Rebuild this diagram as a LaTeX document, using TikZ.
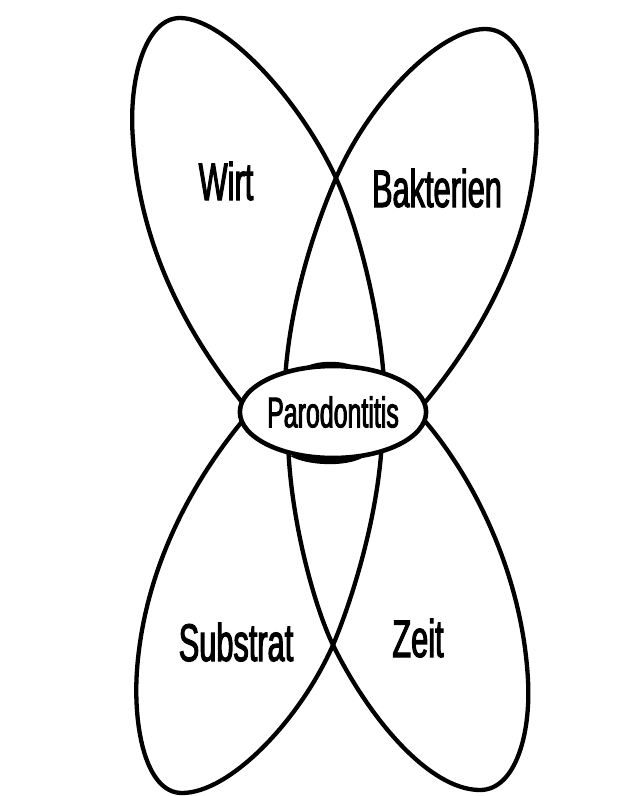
\documentclass[tikz,border=0pt]{standalone}
\usepackage{fontspec}
\setmainfont{Liberation Sans}
\newfontfamily\labfont{Liberation Sans}[FakeStretch=0.58,FakeBold=2]
\usetikzlibrary{shapes.geometric}
\begin{document}
\begin{tikzpicture}[x=1pt,y=-1pt,
  petal/.style={line width=4.3pt, line join=round, line cap=round},
  lab/.style={font=\labfont\fontsize{53}{60}\selectfont, inner sep=0pt, anchor=base},
  centre/.style={ellipse, draw, fill=white, line width=4.6pt, inner sep=0pt,
     minimum width=166pt, minimum height=92pt, font=\labfont\fontsize{43}{50}\selectfont}]
\useasboundingbox (0,0) rectangle (622,796);
% Wirt petal
\draw[petal] (266,430) -- (250,412) .. controls (190,340) and (140,250) .. (133,140)
  .. controls (128,80) and (145,18) .. (180,18)
  .. controls (225,18) and (300,100) .. (336,178)
  .. controls (355,220) and (378,300) .. (384,380) -- (386,410);
% Bakterien petal
\draw[petal] (400,430) -- (417,412) .. controls (470,350) and (528,260) .. (536,150)
  .. controls (540,95) and (525,29) .. (485,29)
  .. controls (440,29) and (370,100) .. (336,178)
  .. controls (316,224) and (290,300) .. (285,380) -- (284,410);
% Substrat petal
\draw[petal] (266,396) -- (250,412) .. controls (200,470) and (145,560) .. (137,670)
  .. controls (133,725) and (145,793) .. (182,793)
  .. controls (230,793) and (300,720) .. (333,645)
  .. controls (350,605) and (378,520) .. (382,440) -- (384,410);
% Zeit petal
\draw[petal] (400,396) -- (417,412) .. controls (470,470) and (522,570) .. (528,680)
  .. controls (531,735) and (515,790) .. (480,790)
  .. controls (430,790) and (370,720) .. (333,645)
  .. controls (315,608) and (290,520) .. (288,440) -- (287,410);
% centre
\node[centre] (par) at (333,412) {Parodontitis};
\fill (305,367) .. controls (318,360) and (343,360) .. (356,367) -- cycle;
\fill (290,456) .. controls (308,466) and (345,467) .. (362,458) -- cycle;
% labels
\node[lab] (wirt) at (226,200) {Wirt};
\node[lab] (bakt) at (437,207) {Bakterien};
\node[lab] (subs) at (236,661) {Substrat};
\node[lab] (zeit) at (418,657) {Zeit};
\end{tikzpicture}
\end{document}
